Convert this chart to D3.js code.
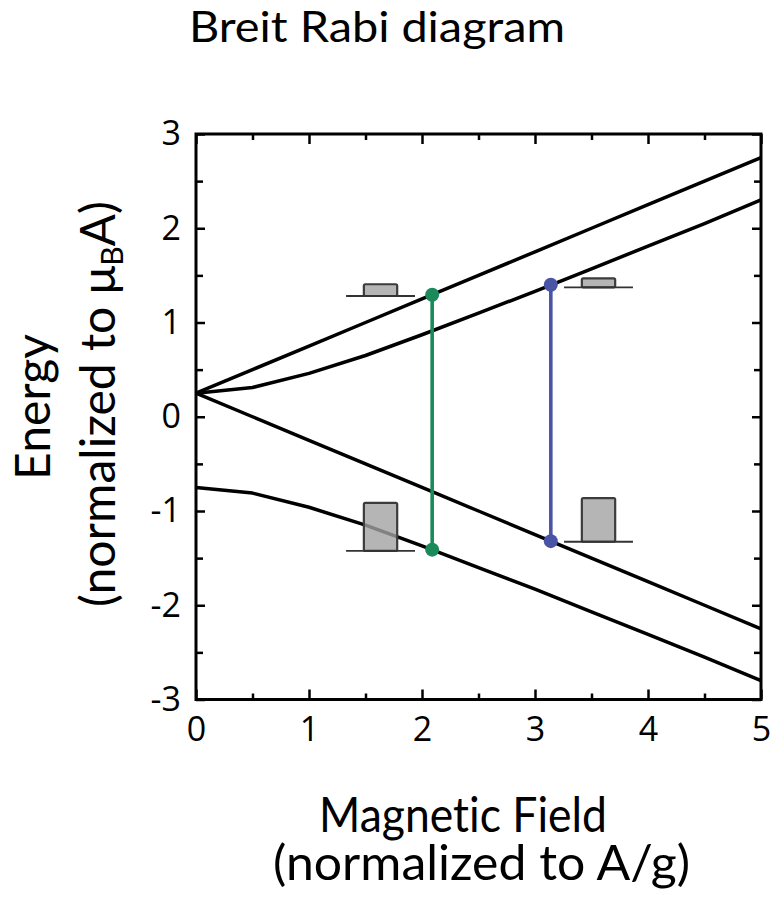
<!DOCTYPE html>
<html>
<head>
<meta charset="utf-8">
<script src="https://cdn.jsdelivr.net/npm/d3@7"></script>
<style>
  html, body { margin: 0; padding: 0; background: #fff; }
  svg { display: block; }
  text { font-variant-ligatures: none; font-feature-settings: "liga" 0; }
</style>
</head>
<body>
<svg id="chart" width="773" height="901"></svg>
<script>
// ---- data ----
const fieldValues   = [0, 0.5, 1, 1.5, 2, 2.5, 3, 3.5, 4, 4.5, 5];
const levelTop      = [0.25, 0.5, 0.75, 1.0, 1.25, 1.5, 1.75, 2.0, 2.25, 2.5, 2.75];
const levelUpperMid = [0.25, 0.31, 0.46, 0.65, 0.87, 1.10, 1.33, 1.57, 1.81, 2.05, 2.30];
const levelBottom   = [0.25, 0.0, -0.25, -0.5, -0.75, -1.0, -1.25, -1.5, -1.75, -2.0, -2.25];
const levelLowerMid = [-0.75, -0.81, -0.96, -1.15, -1.37, -1.60, -1.83, -2.07, -2.31, -2.55, -2.80];

const transitionField = [2.09, 3.14];
const transitionUpper = [1.295, 1.40];
const transitionLower = [-1.41, -1.32];
const transitionColors = ["#1b8a5a", "#4a54a6"];

const popField      = [1.633, 3.562];
const popUpperLevel = [1.281, 1.373];
const popLowerLevel = [-1.424, -1.326];
const popUpper      = [0.125, 0.095];
const popLower      = [0.51, 0.463];

const xMajorTicks = [0, 1, 2, 3, 4, 5];
const xMinorTicks = [0.5, 1.5, 2.5, 3.5, 4.5];
const yMajorTicks = [-3, -2, -1, 0, 1, 2, 3];
const yMinorTicks = [-2.5, -1.5, -0.5, 0.5, 1.5, 2.5];

const titleText = "Breit Rabi diagram";
const xLabel1 = "Magnetic Field";
const xLabel2 = "(normalized to A/g)";
const yLabel1 = "Energy";
const yLabel2 = ["(normalized to \u03bc", "B", "A)"];

// ---- chart ----
const svg = d3.select("#chart");
const x = d3.scaleLinear().domain([0, 5]).range([196, 761]);
const y = d3.scaleLinear().domain([-3, 3]).range([699.5, 134]);

const labelFont = "Lato, 'Open Sans', sans-serif";
const tickFont = "'Open Sans', sans-serif";

svg.append("text").attr("x", 189).attr("y", 42)
  .attr("font-family", labelFont).attr("font-size", 43).attr("fill", "#000")
  .attr("textLength", 376).attr("lengthAdjust", "spacingAndGlyphs")
  .text(titleText);

// energy levels
const line = d3.line().x((d, i) => x(fieldValues[i])).y(d => y(d));
[levelTop, levelUpperMid, levelBottom, levelLowerMid].forEach(s => {
  svg.append("path").datum(s).attr("d", line)
    .attr("fill", "none").attr("stroke", "#000").attr("stroke-width", 3.5)
    .attr("stroke-linejoin", "round");
});

// population bars
const barW = 0.295, baseW = 0.61;
function popBar(cx, level, h) {
  svg.append("rect")
    .attr("x", x(cx - barW / 2)).attr("width", x(barW) - x(0))
    .attr("y", y(level + h)).attr("height", y(level) - y(level + h))
    .attr("rx", 1.5)
    .attr("fill", "#a2a2a2").attr("fill-opacity", 0.8)
    .attr("stroke", "#3c3c3c").attr("stroke-width", 2.2);
  svg.append("line")
    .attr("x1", x(cx - baseW / 2)).attr("x2", x(cx + baseW / 2))
    .attr("y1", y(level)).attr("y2", y(level))
    .attr("stroke", "#333").attr("stroke-width", 1.8);
}
popField.forEach((f, i) => {
  popBar(f, popUpperLevel[i], popUpper[i]);
  popBar(f, popLowerLevel[i], popLower[i]);
});

// transitions
transitionField.forEach((f, i) => {
  const c = transitionColors[i];
  svg.append("line")
    .attr("x1", x(f)).attr("x2", x(f))
    .attr("y1", y(transitionUpper[i])).attr("y2", y(transitionLower[i]))
    .attr("stroke", c).attr("stroke-width", 3.6);
  [transitionUpper[i], transitionLower[i]].forEach(e => {
    svg.append("circle").attr("cx", x(f)).attr("cy", y(e)).attr("r", 7).attr("fill", c);
  });
});

// axes box with inward ticks
function styleAxis(g) {
  g.select(".domain").remove();
  g.selectAll(".tick line").attr("stroke", "#000").attr("stroke-width", 2.5);
}
const H = 699.5, T = 134, L = 196, R = 761;
svg.append("g").attr("transform", `translate(0,${H})`)
  .call(d3.axisBottom(x).tickValues(xMajorTicks).tickSize(-10).tickPadding(17).tickFormat(d3.format("d")))
  .call(styleAxis)
  .call(g => g.selectAll("text").attr("font-family", tickFont).attr("font-size", 34).attr("fill", "#000"));
svg.append("g").attr("transform", `translate(0,${H})`)
  .call(d3.axisBottom(x).tickValues(xMinorTicks).tickSize(-6).tickFormat(""))
  .call(styleAxis);
svg.append("g").attr("transform", `translate(0,${T})`)
  .call(d3.axisTop(x).tickValues(xMajorTicks).tickSize(-10).tickFormat(""))
  .call(styleAxis);
svg.append("g").attr("transform", `translate(0,${T})`)
  .call(d3.axisTop(x).tickValues(xMinorTicks).tickSize(-6).tickFormat(""))
  .call(styleAxis);
svg.append("g").attr("transform", `translate(${L},0)`)
  .call(d3.axisLeft(y).tickValues(yMajorTicks).tickSize(-9).tickPadding(15).tickFormat(d => d < 0 ? "-" + Math.abs(d) : d))
  .call(styleAxis)
  .call(g => g.selectAll("text").attr("font-family", tickFont).attr("font-size", 34).attr("fill", "#000"));
svg.append("g").attr("transform", `translate(${L},0)`)
  .call(d3.axisLeft(y).tickValues(yMinorTicks).tickSize(-7).tickFormat(""))
  .call(styleAxis);
svg.append("g").attr("transform", `translate(${R},0)`)
  .call(d3.axisRight(y).tickValues(yMajorTicks).tickSize(-9).tickFormat(""))
  .call(styleAxis);
svg.append("g").attr("transform", `translate(${R},0)`)
  .call(d3.axisRight(y).tickValues(yMinorTicks).tickSize(-7).tickFormat(""))
  .call(styleAxis);
svg.append("rect").attr("x", L).attr("y", T).attr("width", R - L).attr("height", H - T)
  .attr("fill", "none").attr("stroke", "#000").attr("stroke-width", 3);

// axis labels (one text element per axis, two lines)
const xl = svg.append("text").attr("font-family", labelFont).attr("font-size", 48).attr("fill", "#000");
xl.append("tspan").attr("x", 319).attr("y", 832)
  .attr("textLength", 288).attr("lengthAdjust", "spacingAndGlyphs").text(xLabel1);
xl.append("tspan").attr("x", 273).attr("y", 880)
  .attr("textLength", 417).attr("lengthAdjust", "spacingAndGlyphs").text(xLabel2);

const yl = svg.append("text").attr("transform", "rotate(-90)")
  .attr("font-family", labelFont).attr("font-size", 48).attr("fill", "#000").attr("text-anchor", "middle");
yl.append("tspan").attr("x", -407).attr("y", 50).text(yLabel1);
yl.append("tspan").attr("x", -404).attr("y", 115).text(yLabel2[0]);
yl.append("tspan").attr("font-size", 30).attr("dy", 8).text(yLabel2[1]);
yl.append("tspan").attr("dy", -8).text(yLabel2[2]);
</script>
</body>
</html>
